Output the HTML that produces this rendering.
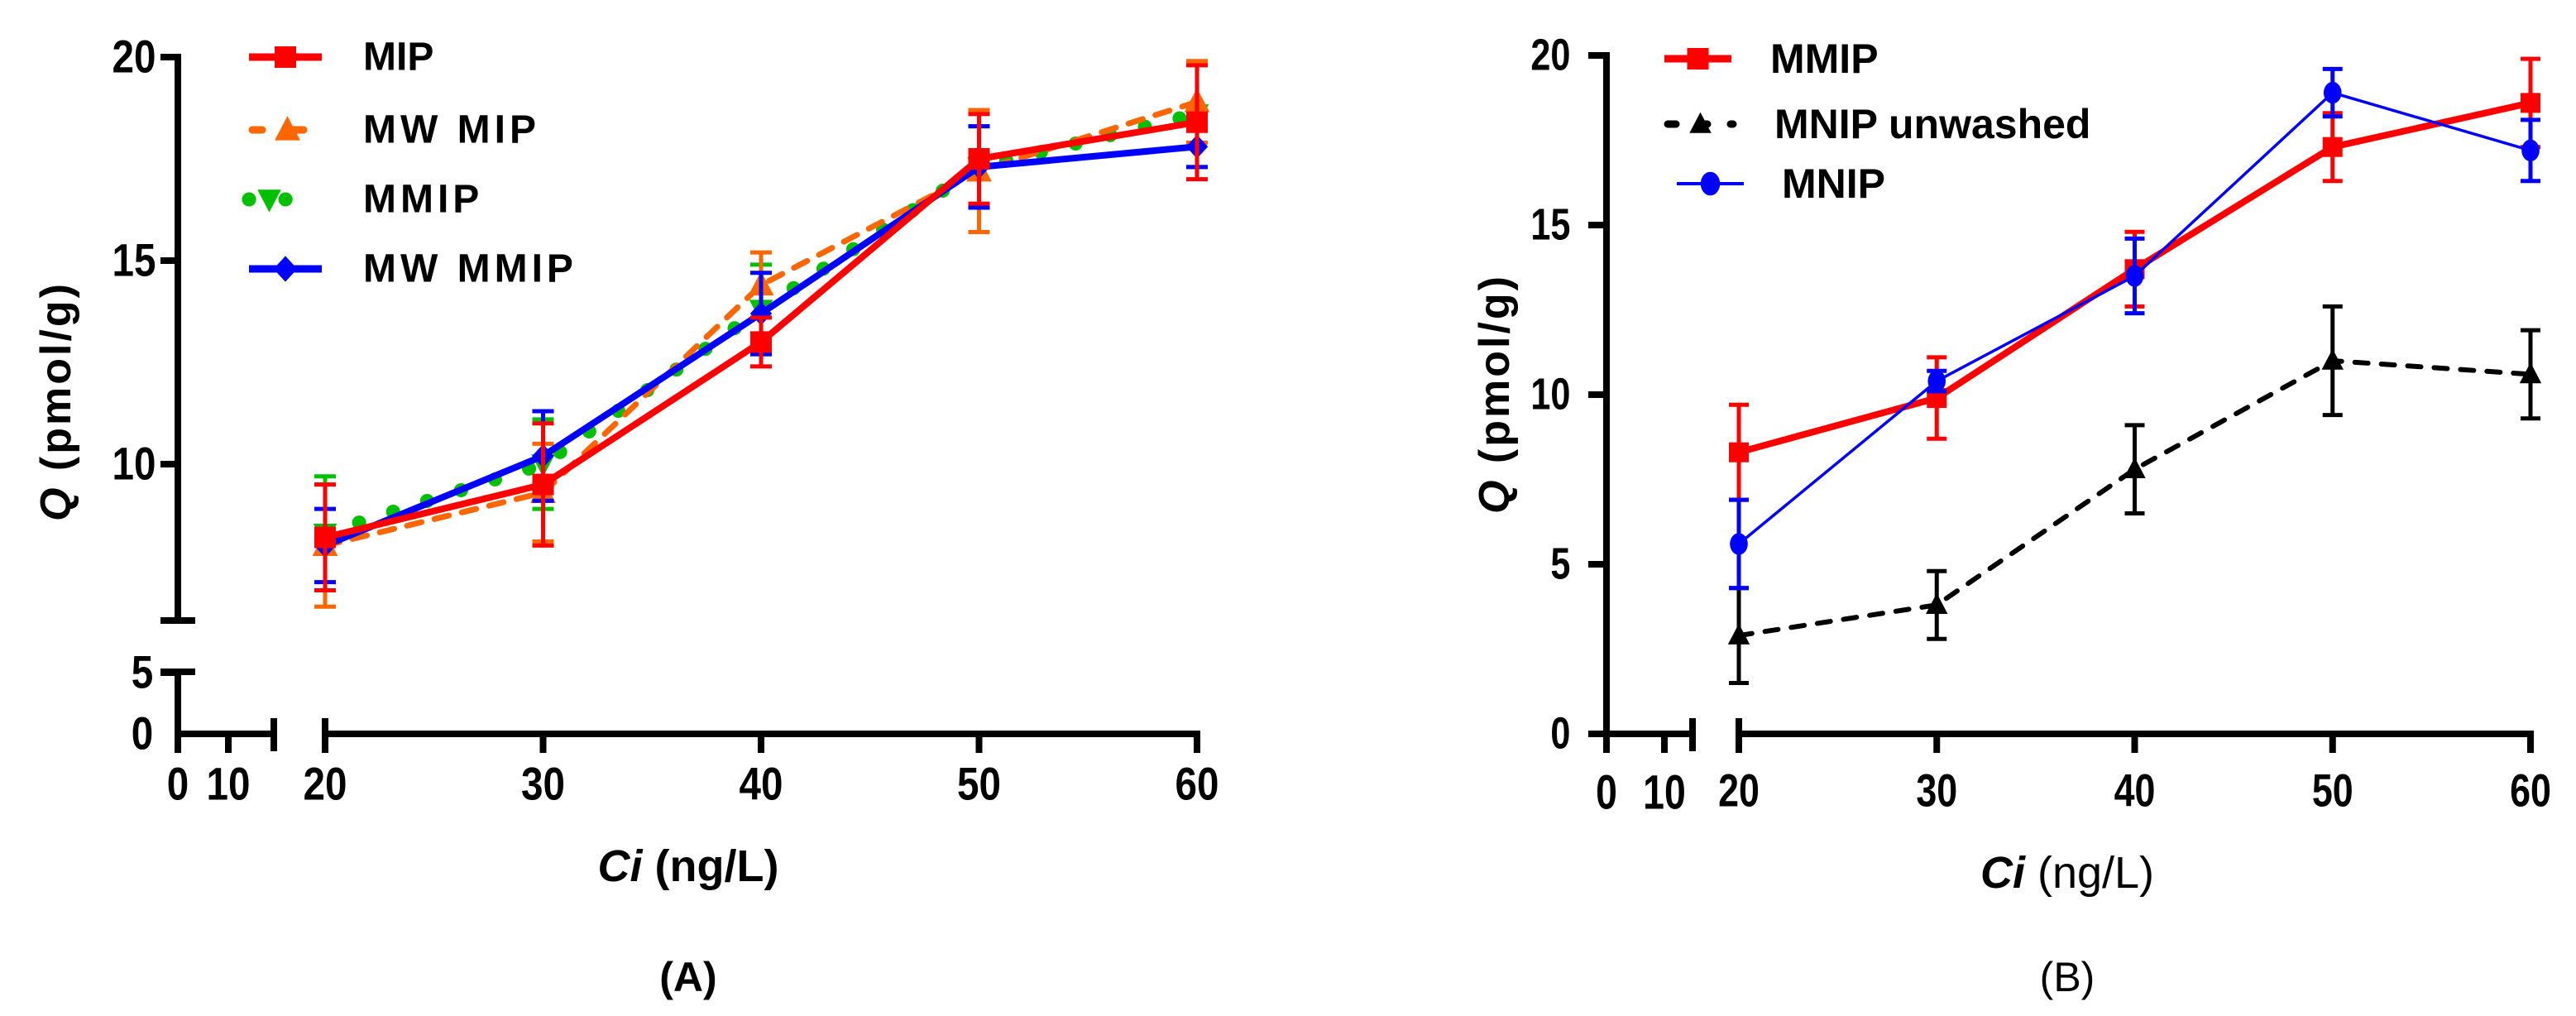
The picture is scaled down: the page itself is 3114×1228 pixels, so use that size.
<!DOCTYPE html>
<html><head><meta charset="utf-8">
<style>
html,body{margin:0;padding:0;background:#fff;}
svg{display:block;font-family:"Liberation Sans",sans-serif;}
</style></head>
<body>
<svg id="chart" width="3114" height="1228" viewBox="0 0 3114 1228" xmlns="http://www.w3.org/2000/svg"></svg>
<script>
// ---------- data ----------
const xCats = [20, 30, 40, 50, 60];
const aMIP = [8.2, 9.5, 13.0, 17.5, 18.4];
const aMIPerr = [1.3, 1.5, 0.6, 1.1, 1.4];
const aMWMIP = [8.0, 9.3, 14.4, 17.2, 18.9];
const aMWMIPerr = [1.5, 1.2, 0.8, 1.5, 1.0];
const aMMIP = [8.3, 10.0, 13.8, 17.3, 18.6];
const aMMIPerr = [1.4, 1.1, 1.1, 1.0, 1.3];
const aMWMMIP = [8.0, 10.2, 13.7, 17.3, 17.8];
const aMWMMIPerr = [0.9, 1.1, 1.0, 1.0, 0.5];
const bMMIP = [8.3, 9.9, 13.7, 17.3, 18.6];
const bMMIPerr = [1.4, 1.2, 1.1, 1.0, 1.3];
const bUnw = [2.9, 3.8, 7.8, 11.0, 10.6];
const bUnwerr = [1.4, 1.0, 1.3, 1.6, 1.3];
const bMNIP = [5.6, 10.4, 13.5, 18.9, 17.2];
const bMNIPerr = [1.3, 0.3, 1.1, 0.7, 0.9];
const aYTicksUpper = [10, 15, 20];
const aYTicksLower = [0, 5];
const bYTicks = [0, 5, 10, 15, 20];
const lowXTicks = [0, 10];

const svg = document.getElementById('chart');
const NS = 'http://www.w3.org/2000/svg';
function mk(tag, attrs, parent) {
  const e = document.createElementNS(NS, tag);
  for (const k in attrs) e.setAttribute(k, attrs[k]);
  (parent || svg).appendChild(e);
  return e;
}
function txt(s, x, y, size, opts, parent) {
  opts = opts || {};
  const t = mk('text', {x: x, y: y, 'font-size': size, 'font-weight': opts.w || 'bold',
    'text-anchor': opts.a || 'middle', 'dominant-baseline': 'central'}, parent);
  if (opts.ls) t.setAttribute('letter-spacing', opts.ls);
  if (opts.tr) t.setAttribute('transform', opts.tr);
  t.textContent = s;
  return t;
}

const AX = v => 393 + (v - 20) * (1447 - 393) / 40;
const AXlow = v => 215 + v * 6.1;
const AYup = v => 561 - (v - 10) * 49.2;
const AYlow = v => 887 - v * 14.8;
const BX = v => 2102 + (v - 20) * (3059 - 2102) / 40;
const BXlow = v => 1942 + v * 7.0;
const BY = v => 887 - v * 41.0;

function axisLine(x1, y1, x2, y2, name, g) {
  const l = mk('line', {x1: x1, y1: y1, x2: x2, y2: y2, stroke: '#000', 'stroke-width': 8}, g);
  
  
}

// ===== Panel A axes =====
const gA = mk('g', {});


axisLine(215, AYup(20) - 4, 215, 750, 'a-y-axis-upper', gA);
axisLine(194, 750, 236, 750, 'a-y-break-bottom', gA);
axisLine(215, 812, 215, 891, 'a-y-axis-lower', gA);
axisLine(194, 812, 236, 812, 'a-y-break-top', gA);
aYTicksUpper.forEach(v => {
  axisLine(194, AYup(v), 215, AYup(v), 'a-y-tick', gA);
  const t = txt(String(v), 162, AYup(v), 56, {tr: `translate(162,0) scale(0.85,1) translate(-162,0)`}, gA);
  
  
});
aYTicksLower.forEach(v => {
  if (v !== 0) axisLine(194, AYlow(v), 215, AYlow(v), 'a-y-tick', gA);
  const t = txt(String(v), 172, AYlow(v), 56, {tr: `translate(172,0) scale(0.85,1) translate(-172,0)`}, gA);
  
  
});
axisLine(211, 887, 335, 887, 'a-x-axis-lower', gA);
axisLine(331, 868, 331, 908, 'a-x-break-end', gA);
axisLine(393, 887, 1451, 887, 'a-x-axis', gA);
axisLine(393, 868, 393, 908, 'a-x-break-start', gA);
lowXTicks.forEach(v => {
  axisLine(AXlow(v), 887, AXlow(v), 910, 'a-x-tick', gA);
  const t = txt(String(v), AXlow(v), 948, 56, {tr: `translate(${AXlow(v)},0) scale(0.85,1) translate(${-AXlow(v)},0)`}, gA);
  
  
});
xCats.forEach(v => {
  axisLine(AX(v), 887, AX(v), 910, 'a-x-tick', gA);
  const t = txt(String(v), AX(v), 948, 56, {tr: `translate(${AX(v)},0) scale(0.85,1) translate(${-AX(v)},0)`}, gA);
  
  
});
let tt = mk('text', {x: 832, y: 1047, 'font-size': 54, 'font-weight': 'bold', 'text-anchor': 'middle', 'dominant-baseline': 'central'}, gA);


tt.innerHTML = '<tspan font-style="italic">Ci</tspan> (ng/L)';
tt = mk('text', {x: 0, y: 0, 'font-size': 52, 'font-weight': 'bold', 'text-anchor': 'middle', 'dominant-baseline': 'central', 'letter-spacing': 3, transform: 'translate(68,485) rotate(-90)'}, gA);


tt.innerHTML = '<tspan font-style="italic">Q</tspan> (pmol/g)';
tt = txt('(A)', 832, 1181, 50, {}, gA);



// ===== Panel B axes =====
const gB = mk('g', {});


axisLine(1942, BY(20) - 4, 1942, 891, 'b-y-axis', gB);
bYTicks.forEach(v => {
  axisLine(1920, BY(v), 1942, BY(v), 'b-y-tick', gB);
  const t = txt(String(v), 1895, BY(v), 54, {a: 'end', tr: `translate(1912,0) scale(0.8,1) translate(-1912,0)`}, gB);
  
  
});
axisLine(1938, 887, 2047, 887, 'b-x-axis-lower', gB);
axisLine(2046, 868, 2046, 908, 'b-x-break-end', gB);
axisLine(2102, 887, 3063, 887, 'b-x-axis', gB);
axisLine(2102, 868, 2102, 908, 'b-x-break-start', gB);
lowXTicks.forEach(v => {
  axisLine(BXlow(v), 887, BXlow(v), 910, 'b-x-tick', gB);
  const t = txt(String(v), BXlow(v), 958, 58, {tr: `translate(${BXlow(v)},0) scale(0.8,1) translate(${-BXlow(v)},0)`}, gB);
  
  
});
xCats.forEach(v => {
  axisLine(BX(v), 887, BX(v), 910, 'b-x-tick', gB);
  const t = txt(String(v), BX(v), 955, 56, {tr: `translate(${BX(v)},0) scale(0.8,1) translate(${-BX(v)},0)`}, gB);
  
  
});
tt = mk('text', {x: 2499, y: 1055, 'font-size': 54, 'text-anchor': 'middle', 'dominant-baseline': 'central'}, gB);


tt.innerHTML = '<tspan font-style="italic" font-weight="bold">Ci</tspan> (ng/L)';
tt = mk('text', {x: 0, y: 0, 'font-size': 52, 'font-weight': 'bold', 'text-anchor': 'middle', 'dominant-baseline': 'central', 'letter-spacing': 3, transform: 'translate(1807,476) rotate(-90)'}, gB);


tt.innerHTML = '<tspan font-style="italic">Q</tspan> (pmol/g)';
tt = txt('(B)', 2499, 1181, 50, {w: 'normal'}, gB);



function marker(type, cx, cy, color, size, g) {
  const s = size;
  let m;
  if (type === 'square') m = mk('rect', {x: cx - s / 2, y: cy - s / 2, width: s, height: s, fill: color}, g);
  else if (type === 'tri') m = mk('polygon', {points: `${cx},${cy - s * 0.6} ${cx - s * 0.55},${cy + s * 0.45} ${cx + s * 0.55},${cy + s * 0.45}`, fill: color}, g);
  else if (type === 'tridown') m = mk('polygon', {points: `${cx},${cy + s * 0.6} ${cx - s * 0.55},${cy - s * 0.45} ${cx + s * 0.55},${cy - s * 0.45}`, fill: color}, g);
  else if (type === 'diamond') m = mk('polygon', {points: `${cx},${cy - s * 0.6} ${cx + s * 0.55},${cy} ${cx},${cy + s * 0.6} ${cx - s * 0.55},${cy}`, fill: color}, g);
  else m = mk('ellipse', {cx: cx, cy: cy, rx: s * 0.45, ry: s * 0.55, fill: color}, g);
  return m;
}

function series(name, vals, errs, xf, yf, color, width, dash, mtype, msize, cap) {
  const g = mk('g', {});
  
  
  vals.forEach((v, i) => {
    const x = xf(xCats[i]);
    const e = mk('path', {d: `M${x},${yf(v - errs[i])}V${yf(v + errs[i])}M${x - cap},${yf(v + errs[i])}H${x + cap}M${x - cap},${yf(v - errs[i])}H${x + cap}`, stroke: color, 'stroke-width': 5, fill: 'none'}, g);
    
    
  });
  const pts = vals.map((v, i) => `${xf(xCats[i])},${yf(v)}`).join(' ');
  const pl = mk('polyline', {points: pts, fill: 'none', stroke: color, 'stroke-width': width, 'stroke-linecap': 'round', 'stroke-linejoin': 'round'}, g);
  if (dash) pl.setAttribute('stroke-dasharray', dash);
  
  
  vals.forEach((v, i) => {
    const m = marker(mtype, xf(xCats[i]), yf(v), color, msize, g);
    
    
  });
}

series('a-mmip', aMMIP, aMMIPerr, AX, AYup, '#00c000', 17, '0.1 43', 'tridown', 26, 13);
series('a-mw-mip', aMWMIP, aMWMIPerr, AX, AYup, '#ff6600', 7, '18 16', 'tri', 28, 13);
series('a-mw-mmip', aMWMMIP, aMWMMIPerr, AX, AYup, '#0000ff', 8, null, 'diamond', 24, 13);
series('a-mip', aMIP, aMIPerr, AX, AYup, '#ff0000', 8, null, 'square', 26, 13);

series('b-mnip-unwashed', bUnw, bUnwerr, BX, BY, '#000000', 6, '16 16', 'tri', 24, 12);
series('b-mmip', bMMIP, bMMIPerr, BX, BY, '#ff0000', 8, null, 'square', 24, 12);
series('b-mnip', bMNIP, bMNIPerr, BX, BY, '#0000ff', 3.5, null, 'circle', 24, 12);

function legendEntry(label, x1, x2, y, tx, color, width, dash, mtype, msize, fs, ls, name) {
  const g = mk('g', {});
  
  
  const l = mk('line', {x1: x1, y1: y, x2: x2, y2: y, stroke: color, 'stroke-width': width, 'stroke-linecap': dash ? 'round' : 'butt'}, g);
  if (dash) l.setAttribute('stroke-dasharray', dash);
  marker(mtype, (x1 + x2) / 2, y, color, msize, g);
  txt(label, tx, y, fs, {a: 'start', ls: ls}, g);
}
legendEntry('MIP', 301, 389, 69, 439, '#ff0000', 9, null, 'square', 26, 48, 0, 'legend-a-mip');
legendEntry('MW MIP', 305, 390, 157, 439, '#ff6600', 9, '12 38', 'tri', 28, 48, 5, 'legend-a-mw-mip');
legendEntry('MMIP', 301, 350, 241, 439, '#00c000', 17, '0.1 44', 'tridown', 26, 48, 5, 'legend-a-mmip');
legendEntry('MW MMIP', 301, 389, 325, 439, '#0000ff', 9, null, 'diamond', 26, 48, 5, 'legend-a-mw-mmip');
legendEntry('MMIP', 2012, 2093, 71, 2140, '#ff0000', 9, null, 'square', 26, 50, 0, 'legend-b-mmip');
legendEntry('MNIP unwashed', 2016, 2095, 150, 2145, '#000000', 9, '10 28', 'tri', 24, 50, 0, 'legend-b-mnip-unwashed');
legendEntry('MNIP', 2027, 2108, 222, 2154, '#0000ff', 4, null, 'circle', 26, 50, 0, 'legend-b-mnip');
</script>
</body></html>
